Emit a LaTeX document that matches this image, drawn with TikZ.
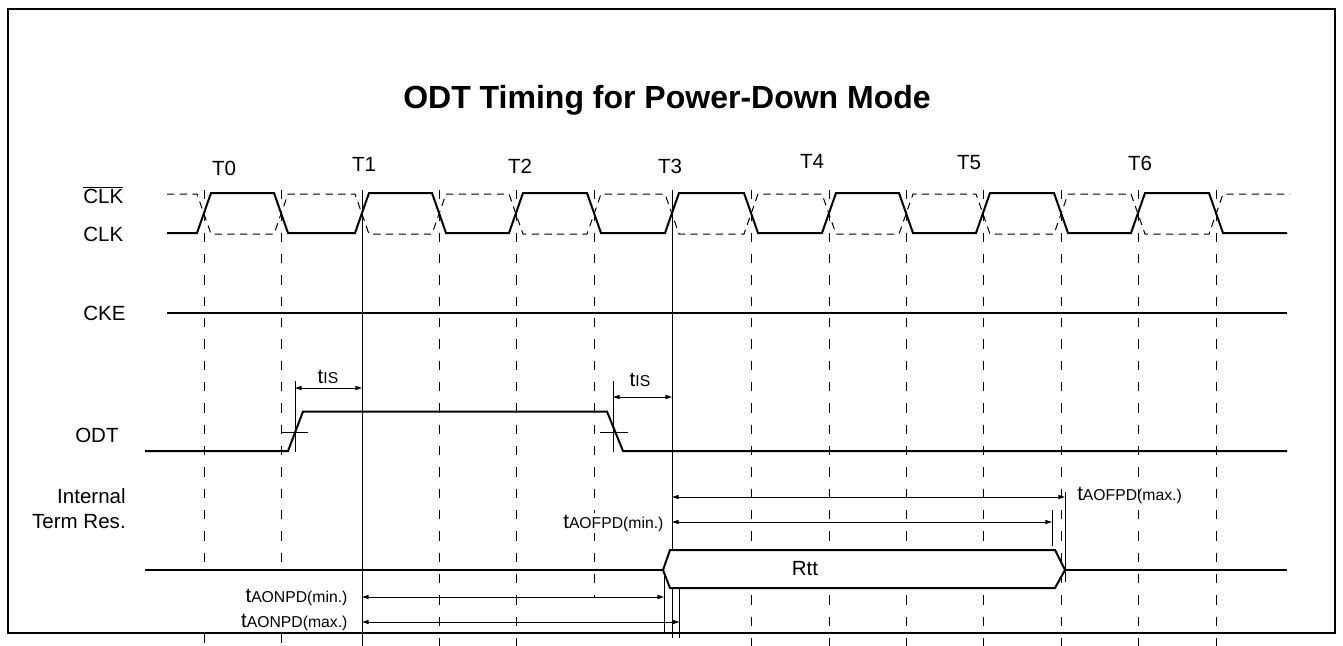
\documentclass[tikz,border=0pt]{standalone}
\usepackage{fontspec}
\setmainfont{Liberation Sans}
\usetikzlibrary{arrows.meta}
\newcommand\sbt[1]{{\fontsize{11.8}{13}\selectfont #1}}
\begin{document}
\begin{tikzpicture}[x=0.75pt,y=-0.75pt,
  wave/.style={line width=1.5pt,line join=miter},
  thinline/.style={line width=0.7pt},
  gridline/.style={line width=0.7pt,dash pattern=on 7pt off 9pt},
  clkbar/.style={line width=0.75pt,dash pattern=on 5.5pt off 4pt},
  dim/.style={line width=0.7pt,{Triangle[length=5pt,width=3pt]}-{Triangle[length=5pt,width=3pt]}},
  lbl/.style={font=\fontsize{15.4}{18}\selectfont,inner sep=0pt},
  tlbl/.style={font=\fontsize{15.4}{18}\selectfont,inner sep=0pt},
  dimlbl/.style={font=\fontsize{15.4}{18}\selectfont,inner sep=1pt,fill=white}]
\useasboundingbox (0,0) rectangle (1343,646);
% frame
\draw[line width=1.5pt] (8,9) rectangle (1335,633);
% title
\node[font=\fontsize{24}{28}\selectfont\bfseries] (title) at (667,100) {ODT Timing for Power-Down Mode};
% clock labels
\foreach \n/\x/\y in {0/224/168,1/364/164,2/520/166,3/670/166,4/812/161,5/969/163,6/1140/163}
  \node[tlbl] (T\n) at (\x,\y) {T\n};
% signal labels
\node[lbl,anchor=base west] (lclkb) at (83,203) {$\overline{\mbox{CLK}}$};
\node[lbl,anchor=base west] (lclk) at (83,241) {CLK};
\node[lbl,anchor=base west] (lcke) at (83,320) {CKE};
\node[lbl,anchor=base west] (lodt) at (75,442) {ODT};
\node[lbl,anchor=base east] (lint) at (126,503) {Internal};
\node[lbl,anchor=base east] (lterm) at (126,528) {Term Res.};
% vertical grid lines
\foreach \x in {439,516,751,829,906,983,1061,1138,1216}
  \draw[gridline] (\x,190) -- (\x,646);
\foreach \x in {204,281}{
  \draw[gridline] (\x,190) -- (\x,572);
  \draw[gridline] (\x,634) -- (\x,646);}
\draw[gridline] (594,190) -- (594,597);
\coordinate (T1a) at (362,190);
\coordinate (T1b) at (362,646);
\coordinate (T3a) at (672,190);
\coordinate (T3b) at (672,638);
\draw[thinline] (T1a) -- (T1b);
\draw[thinline] (T3a) -- (T3b);
% CLK bar (dashed)
\draw[clkbar] (167,194) -- (197,194) -- (211,234) -- (274,234) -- (288,194) -- (355,194) -- (369,234) -- (432,234) -- (446,194) -- (509,194) -- (523,234) -- (587,234) -- (601,194) -- (665,194) -- (679,234) -- (744,234) -- (758,194) -- (822,194) -- (836,234) -- (899,234) -- (913,194) -- (976,194) -- (990,234) -- (1054,234) -- (1068,194) -- (1131,194) -- (1145,234) -- (1209,234) -- (1223,194) -- (1290,194);
% CLK
\draw[wave] (167,233) -- (197,233) -- (211,193) -- (274,193) -- (288,233) -- (355,233) -- (369,193) -- (432,193) -- (446,233) -- (509,233) -- (523,193) -- (587,193) -- (601,233) -- (665,233) -- (679,193) -- (744,193) -- (758,233) -- (822,233) -- (836,193) -- (899,193) -- (913,233) -- (976,233) -- (990,193) -- (1054,193) -- (1068,233) -- (1131,233) -- (1145,193) -- (1209,193) -- (1223,233) -- (1287,233);
% CKE
\draw[wave] (167,313) -- (1287,313);
% ODT
\draw[wave] (145,451) -- (288,451) -- (303,411.5) -- (607,411.5) -- (623,451) -- (1287,451);
\draw[thinline] (282,432.5) -- (308,432.5);
\draw[thinline] (600,432.5) -- (628,432.5);
\coordinate (is1a) at (295,381);
\coordinate (is1b) at (295,452);
\coordinate (is2a) at (613,381);
\coordinate (is2b) at (613,452);
\draw[thinline] (is1a) -- (is1b);
\draw[thinline] (is2a) -- (is2b);
\draw[dim] (295,388) -- (362,388);
\draw[dim] (613,397) -- (672,397);
\node[tlbl] (tis1) at (328,377) {t\sbt{IS}};
\node[tlbl] (tis2) at (640,380) {t\sbt{IS}};
% Internal term res
\draw[wave] (145,570) -- (663,570);
\draw[wave] (1065,570) -- (1287,570);
\draw[wave,fill=white] (663,570) -- (670,550) -- (1055,550) -- (1065,570) -- (1055,588) -- (670,588) -- cycle;
\node[lbl] (rtt) at (805,569) {Rtt};
% tAOFPD
\draw[thinline] (1065.5,492) -- (1065.5,582);
\draw[thinline] (1052,510) -- (1052,546);
\draw[dim] (672,497) -- (1065,497);
\draw[dim] (672,522) -- (1052,522);
\node[tlbl,anchor=west] (aofmax) at (1077,495) {t\sbt{AOFPD(max.)}};
\node[dimlbl,anchor=east] (aofmin) at (665,523) {t\sbt{AOFPD(min.)}};
% tAONPD
\draw[thinline] (664,572) -- (664,633);
\draw[thinline] (679.5,588) -- (679.5,638);
\draw[dim] (362,597) -- (664,597);
\draw[dim] (362,622) -- (679.5,622);
\node[dimlbl,anchor=east] (aonmin) at (349,597) {t\sbt{AONPD(min.)}};
\node[dimlbl,anchor=east] (aonmax) at (349,622) {t\sbt{AONPD(max.)}};
\end{tikzpicture}
\end{document}
